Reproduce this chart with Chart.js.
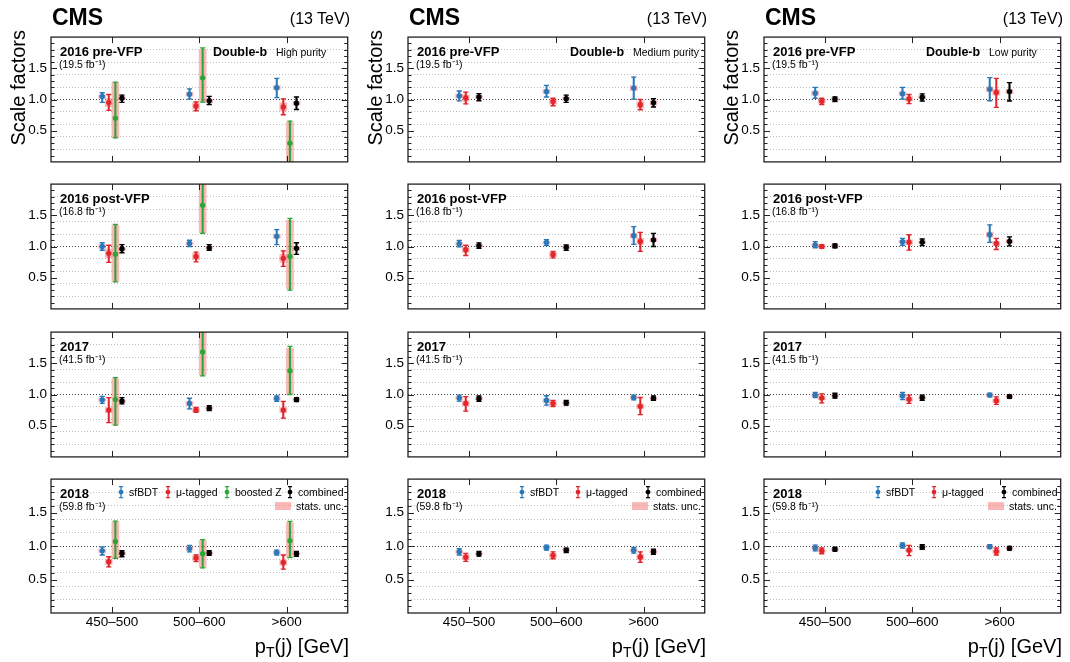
<!DOCTYPE html>
<html>
<head>
<meta charset="utf-8">
<script src="https://cdn.jsdelivr.net/npm/chart.js@4.4.1/dist/chart.umd.min.js"></script>
<style>
  body { margin: 0; background: #fff; width: 1070px; height: 662px; position: relative; overflow: hidden;
         font-family: 'Liberation Sans', Arial, sans-serif; }
  canvas { position: absolute; }
  .txt { position: absolute; white-space: nowrap; line-height: 1; color: #000; }
</style>
</head>
<body>
<script>
const categories = ['450\u2013500', '500\u2013600', '>600'];
const eras = ['2016 pre-VFP', '2016 post-VFP', '2017', '2018'];
const lumis = ['(19.5 fb\u207B\u00B9)', '(16.8 fb\u207B\u00B9)', '(41.5 fb\u207B\u00B9)', '(59.8 fb\u207B\u00B9)'];
const purities = ['High purity', 'Medium purity', 'Low purity'];
const methodNames = ['sfBDT', '\u03BC-tagged', 'boosted Z', 'combined'];
const yTickLabels = [0.5, 1.0, 1.5];

// per era, per pT bin: [value, lower edge, upper edge, stat half-width]
// boosted Z: [value, lower edge, upper edge, stat low, stat high]
const highSfBDT = [
  [[1.047, 0.953, 1.108, 0.025], [1.085, 1.005, 1.17, 0.03], [1.19, 1.03, 1.34, 0.035]],
  [[1.0, 0.94, 1.06, 0.025], [1.05, 1.0, 1.1, 0.02], [1.163, 1.03, 1.27, 0.035]],
  [[0.914, 0.857, 0.97, 0.025], [0.857, 0.77, 0.94, 0.03], [0.933, 0.89, 0.976, 0.02]],
  [[0.928, 0.866, 0.986, 0.025], [0.962, 0.914, 1.01, 0.025], [0.904, 0.866, 0.94, 0.02]]
];
const highMuTag = [
  [[0.95, 0.826, 1.08, 0.065], [0.897, 0.82, 0.96, 0.05], [0.88, 0.756, 1.01, 0.065]],
  [[0.89, 0.745, 1.02, 0.07], [0.84, 0.755, 0.91, 0.05], [0.81, 0.68, 0.93, 0.065]],
  [[0.75, 0.55, 0.95, 0.04], [0.75, 0.714, 0.795, 0.03], [0.75, 0.62, 0.89, 0.04]],
  [[0.765, 0.69, 0.84, 0.04], [0.82, 0.766, 0.866, 0.035], [0.756, 0.655, 0.866, 0.04]]
];
const highBoostedZ = [
  [[0.70, 0.385, 1.277, 0.39, 1.27], [1.347, 0.958, 1.826, 0.965, 1.80], [0.30, -0.1, 0.653, -0.1, 0.64]],
  [[0.875, 0.433, 1.356, 0.44, 1.34], [1.66, 1.21, 2.15, 1.22, 2.15], [0.84, 0.30, 1.45, 0.32, 1.42]],
  [[0.92, 0.51, 1.27, 0.52, 1.25], [1.68, 1.30, 2.15, 1.31, 2.15], [1.38, 1.0, 1.77, 1.0, 1.74]],
  [[1.067, 0.818, 1.373, 0.82, 1.36], [0.885, 0.675, 1.096, 0.68, 1.08], [1.08, 0.828, 1.368, 0.83, 1.35]]
];
const highCombined = [
  [[1.02, 0.955, 1.07, 0.02], [0.98, 0.92, 1.05, 0.025], [0.94, 0.84, 1.04, 0.03]],
  [[0.96, 0.90, 1.03, 0.02], [0.98, 0.94, 1.03, 0.02], [0.97, 0.875, 1.06, 0.03]],
  [[0.895, 0.85, 0.95, 0.02], [0.78, 0.74, 0.82, 0.02], [0.92, 0.886, 0.95, 0.015]],
  [[0.89, 0.84, 0.93, 0.02], [0.895, 0.86, 0.93, 0.02], [0.885, 0.847, 0.92, 0.015]]
];
const medSfBDT = [
  [[1.056, 0.977, 1.136, 0.03], [1.127, 1.04, 1.225, 0.035], [1.183, 1.005, 1.36, 0.04]],
  [[1.043, 0.995, 1.096, 0.02], [1.063, 1.014, 1.11, 0.025], [1.173, 1.034, 1.317, 0.04]],
  [[0.943, 0.895, 0.99, 0.02], [0.905, 0.83, 0.98, 0.03], [0.952, 0.914, 0.99, 0.02]],
  [[0.914, 0.866, 0.96, 0.02], [0.976, 0.938, 1.014, 0.02], [0.938, 0.895, 0.98, 0.02]]
];
const medMuTag = [
  [[1.023, 0.93, 1.117, 0.05], [0.967, 0.90, 1.02, 0.04], [0.915, 0.836, 1.0, 0.05]],
  [[0.947, 0.856, 1.02, 0.04], [0.87, 0.817, 0.92, 0.035], [1.082, 0.923, 1.226, 0.05]],
  [[0.857, 0.733, 0.967, 0.04], [0.857, 0.805, 0.905, 0.03], [0.81, 0.676, 0.952, 0.04]],
  [[0.833, 0.77, 0.89, 0.035], [0.86, 0.81, 0.914, 0.03], [0.837, 0.756, 0.914, 0.04]]
];
const medCombined = [
  [[1.04, 0.98, 1.094, 0.025], [1.014, 0.953, 1.07, 0.025], [0.948, 0.88, 1.014, 0.035]],
  [[1.014, 0.97, 1.058, 0.02], [0.986, 0.94, 1.024, 0.02], [1.106, 1.0, 1.21, 0.03]],
  [[0.933, 0.89, 0.976, 0.02], [0.867, 0.83, 0.905, 0.02], [0.938, 0.905, 0.976, 0.015]],
  [[0.885, 0.85, 0.92, 0.015], [0.938, 0.904, 0.967, 0.015], [0.914, 0.876, 0.952, 0.02]]
];
const lowSfBDT = [
  [[1.10, 1.02, 1.193, 0.035], [1.094, 1.005, 1.193, 0.03], [1.165, 0.98, 1.35, 0.04]],
  [[1.024, 0.98, 1.077, 0.02], [1.077, 1.02, 1.13, 0.02], [1.19, 1.067, 1.346, 0.04]],
  [[0.99, 0.952, 1.033, 0.02], [0.98, 0.92, 1.033, 0.025], [0.99, 0.962, 1.02, 0.015]],
  [[0.971, 0.928, 1.014, 0.02], [1.01, 0.971, 1.048, 0.02], [0.99, 0.962, 1.02, 0.015]]
];
const lowMuTag = [
  [[0.972, 0.92, 1.02, 0.03], [1.01, 0.934, 1.08, 0.035], [1.113, 0.873, 1.34, 0.045]],
  [[1.0, 0.97, 1.03, 0.02], [1.067, 0.942, 1.188, 0.04], [1.048, 0.952, 1.13, 0.035]],
  [[0.943, 0.867, 1.01, 0.03], [0.924, 0.857, 0.99, 0.03], [0.9, 0.843, 0.962, 0.03]],
  [[0.928, 0.885, 0.971, 0.02], [0.938, 0.856, 1.01, 0.03], [0.919, 0.866, 0.971, 0.025]]
];
const lowCombined = [
  [[1.005, 0.967, 1.042, 0.02], [1.038, 0.976, 1.09, 0.025], [1.127, 0.976, 1.27, 0.035]],
  [[1.01, 0.98, 1.04, 0.015], [1.067, 1.014, 1.12, 0.02], [1.082, 1.01, 1.154, 0.025]],
  [[0.98, 0.943, 1.02, 0.015], [0.948, 0.905, 0.99, 0.02], [0.967, 0.938, 0.995, 0.015]],
  [[0.952, 0.923, 0.98, 0.015], [0.986, 0.952, 1.02, 0.015], [0.967, 0.938, 0.995, 0.015]]
];

const columns = [
  { purity: purities[0], methods: [0, 1, 2, 3], series: [highSfBDT, highMuTag, highBoostedZ, highCombined] },
  { purity: purities[1], methods: [0, 1, 3], series: [medSfBDT, medMuTag, medCombined] },
  { purity: purities[2], methods: [0, 1, 3], series: [lowSfBDT, lowMuTag, lowCombined] }
];

// layout / style
const COL_LEFT = [51, 408, 764];
const ROW_TOP = [28, 175, 323, 470];
const PLOT_W = 299, PLOT_H = 143;
const AXIS_W = 48, PAD = 3, XAXIS_H = 34;
const OFFSETS = [-0.113, -0.038, 0.038, 0.113];
const COLORS = ['#2b78b8', '#e2262c', '#2ea635', '#000000'];
const STAT_COLOR = 'rgba(242,125,125,0.55)';
const FONT = "'Liberation Sans', Arial, sans-serif";

Chart.defaults.font.family = FONT;

const near = (a, b) => Math.abs(a - b) < 1e-6;

function panelDatasets(col, row) {
  const ds = [];
  col.methods.forEach((m, k) => {
    const pts = col.series[k][row];
    const xs = pts.map((p, i) => i + OFFSETS[m]);
    const stat = pts.map((p, i) => ({ x: xs[i], y: p.length > 4 ? [p[3], p[4]] : [p[0] - p[3], p[0] + p[3]] }));
    const err = pts.map((p, i) => ({ x: xs[i], y: [p[1], p[2]] }));
    const caps = [];
    pts.forEach((p, i) => { caps.push({ x: xs[i], y: p[1] }); caps.push({ x: xs[i], y: p[2] }); });
    const cent = pts.map((p, i) => ({ x: xs[i], y: p[0] }));
    ds.push({ type: 'bar', data: stat, backgroundColor: STAT_COLOR, borderWidth: 0,
              barThickness: 7, grouped: false, order: 4 });
    ds.push({ type: 'bar', data: err, backgroundColor: COLORS[m], borderWidth: 0,
              barThickness: 1.4, grouped: false, order: 3 });
    ds.push({ type: 'scatter', data: caps, pointStyle: 'line', pointRadius: 2.6,
              pointBorderColor: COLORS[m], pointBorderWidth: 1.3, order: 2 });
    ds.push({ type: 'scatter', data: cent, pointStyle: 'circle', pointRadius: 2.7,
              pointBackgroundColor: COLORS[m], pointBorderWidth: 0, order: 1 });
  });
  return ds;
}

function drawLegend(ctx, a, methods) {
  const pos = methods.length === 4 ? [70, 117, 176, 239] : [114, 170, 240];
  const yy = a.top + 13;
  ctx.font = '10.5px ' + FONT;
  ctx.textBaseline = 'alphabetic';
  ctx.textAlign = 'left';
  methods.forEach((m, k) => {
    const cx = a.left + pos[k];
    ctx.strokeStyle = COLORS[m];
    ctx.fillStyle = COLORS[m];
    ctx.lineWidth = 1.2;
    ctx.beginPath();
    ctx.moveTo(cx, yy - 5.5); ctx.lineTo(cx, yy + 5.5);
    ctx.moveTo(cx - 2, yy - 5.5); ctx.lineTo(cx + 2, yy - 5.5);
    ctx.moveTo(cx - 2, yy + 5.5); ctx.lineTo(cx + 2, yy + 5.5);
    ctx.stroke();
    ctx.beginPath(); ctx.arc(cx, yy, 2.4, 0, Math.PI * 2); ctx.fill();
    ctx.fillStyle = '#000';
    ctx.fillText(methodNames[m], cx + 8, yy + 4);
  });
  ctx.fillStyle = STAT_COLOR;
  ctx.fillRect(a.left + 224, a.top + 23, 16, 8);
  ctx.fillStyle = '#000';
  ctx.fillText('stats. unc.', a.left + 245, a.top + 31);
}

const panelDecor = {
  id: 'panelDecor',
  afterDatasetsDraw(chart, args, opts) {
    const { ctx, chartArea: a, scales: { x, y } } = chart;
    ctx.save();
    // inward ticks
    ctx.strokeStyle = '#222';
    ctx.lineWidth = 1;
    ctx.beginPath();
    y.ticks.forEach(t => {
      if (t.value <= y.min + 1e-6 || t.value >= y.max - 1e-6) return;
      const py = Math.round(y.getPixelForValue(t.value)) + 0.5;
      const len = yTickLabels.some(v => near(v, t.value)) ? 6 : 3.5;
      ctx.moveTo(a.left, py); ctx.lineTo(a.left + len, py);
      ctx.moveTo(a.right, py); ctx.lineTo(a.right - len, py);
    });
    x.ticks.forEach(t => {
      const px = Math.round(x.getPixelForValue(t.value)) + 0.5;
      ctx.moveTo(px, a.top); ctx.lineTo(px, a.top + 6);
      ctx.moveTo(px, a.bottom); ctx.lineTo(px, a.bottom - 6);
    });
    ctx.stroke();
    // frame
    ctx.lineWidth = 1.3;
    ctx.strokeStyle = '#222';
    ctx.strokeRect(a.left, a.top, a.right - a.left, a.bottom - a.top);
    // panel texts
    ctx.fillStyle = '#000';
    ctx.textAlign = 'left';
    ctx.textBaseline = 'alphabetic';
    ctx.font = 'bold 13px ' + FONT;
    ctx.fillText(opts.era, a.left + 9, a.top + 18.5);
    ctx.font = '10.5px ' + FONT;
    ctx.fillText(opts.lumi, a.left + 8, a.top + 30.5);
    if (opts.purity) {
      ctx.font = 'bold 12.5px ' + FONT;
      ctx.fillText('Double-b', a.left + 162, a.top + 18.5);
      ctx.font = '10.5px ' + FONT;
      ctx.fillText(opts.purity, a.left + 225, a.top + 18.5);
    }
    if (opts.legend) drawLegend(ctx, a, opts.methods);
    ctx.restore();
  }
};

function gridWidth(v) {
  if (v <= 0.01 || v >= 1.99) return 0;
  return near(v * 5, Math.round(v * 5)) ? 1 : 0;
}

function makePanel(c, r) {
  const col = columns[c];
  const isBottom = r === 3;
  const canvas = document.createElement('canvas');
  const w = AXIS_W + PLOT_W + PAD;
  const h = PAD + PLOT_H + (isBottom ? XAXIS_H : PAD);
  canvas.width = w; canvas.height = h;
  canvas.style.width = w + 'px'; canvas.style.height = h + 'px';
  canvas.style.left = (COL_LEFT[c] - AXIS_W) + 'px';
  canvas.style.top = (ROW_TOP[r] - PAD) + 'px';
  document.body.appendChild(canvas);

  new Chart(canvas, {
    type: 'scatter',
    data: { datasets: panelDatasets(col, r) },
    plugins: [panelDecor],
    options: {
      responsive: false,
      animation: false,
      events: [],
      layout: { padding: { top: PAD, right: PAD, bottom: isBottom ? 0 : PAD, left: 0 } },
      plugins: {
        legend: { display: false },
        tooltip: { enabled: false },
        panelDecor: {
          era: eras[r], lumi: lumis[r],
          purity: r === 0 ? col.purity : null,
          legend: isBottom, methods: col.methods
        }
      },
      scales: {
        x: {
          type: 'linear', min: -0.7, max: 2.7, offset: false,
          afterBuildTicks: s => { s.ticks = categories.map((_, i) => ({ value: i })); },
          afterFit: s => { s.height = isBottom ? XAXIS_H : 0; },
          grid: { display: false, drawTicks: false },
          border: { display: false },
          ticks: {
            display: isBottom, autoSkip: false, maxRotation: 0, minRotation: 0, padding: 1,
            color: '#000', font: { size: 13.5 },
            callback: v => categories[v] !== undefined ? categories[v] : ''
          }
        },
        y: {
          type: 'linear', min: 0, max: 2,
          afterBuildTicks: s => {
            const t = [];
            for (let i = 0; i <= 20; i++) t.push({ value: i / 10 });
            s.ticks = t;
          },
          afterFit: s => { s.width = AXIS_W; },
          grid: {
            drawTicks: false,
            lineWidth: ctx => gridWidth(ctx.tick.value),
            color: ctx => near(ctx.tick.value, 1) ? '#444' : '#bdbdbd'
          },
          border: { display: false, dash: [1, 2] },
          ticks: {
            autoSkip: false, padding: 4, color: '#000', font: { size: 13.5 },
            callback: v => yTickLabels.some(t => near(t, v)) ? v.toFixed(1) : ''
          }
        }
      }
    }
  });
}

function addText(html, css) {
  const d = document.createElement('div');
  d.className = 'txt';
  d.innerHTML = html;
  Object.assign(d.style, css);
  document.body.appendChild(d);
  return d;
}

columns.forEach((col, c) => {
  for (let r = 0; r < 4; r++) makePanel(c, r);
  const L = COL_LEFT[c];
  const R = L + PLOT_W;
  addText('CMS', { left: (L + 1) + 'px', top: '5.5px', fontSize: '23px', fontWeight: 'bold' });
  addText('(13 TeV)', { right: (1070 - R) + 'px', top: '11px', fontSize: '16px' });
  addText('Scale factors', {
    left: (L - 43) + 'px', top: '230px', width: '200px', textAlign: 'right', fontSize: '20px',
    transform: 'rotate(-90deg)', transformOrigin: '0 0'
  });
  addText('p<span style="font-size:14px;position:relative;top:4px">T</span>(j) [GeV]',
    { right: (1070 - R + 1) + 'px', top: '635.5px', fontSize: '20px' });
});
</script>
</body>
</html>
